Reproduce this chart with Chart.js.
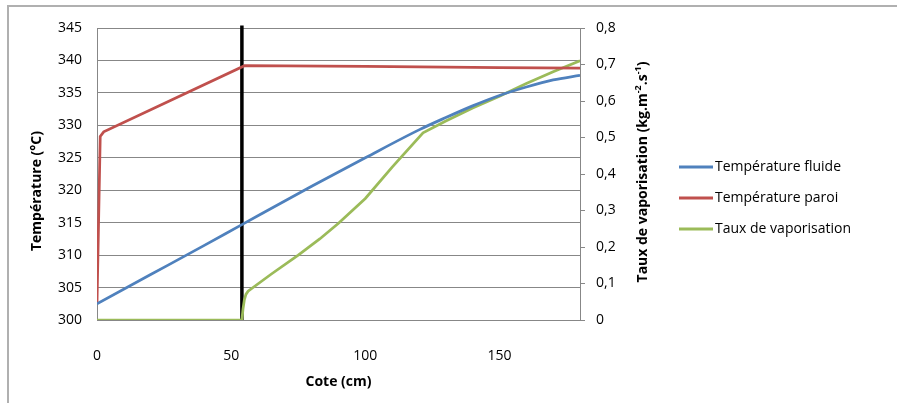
<!DOCTYPE html>
<html>
<head>
<meta charset="utf-8">
<script src="https://cdn.jsdelivr.net/npm/chart.js@4.4.1/dist/chart.umd.min.js"></script>
<style>
    html, body { margin: 0; padding: 0; background: #fff; }
    canvas { display: block; }
</style>
</head>
<body>
<canvas id="chart" width="897" height="403"></canvas>
<script>
// Température fluide (°C) vs cote (cm)
const fluideX = [0, 20, 40, 54, 80, 100, 120, 130, 140, 150, 160, 170, 180];
const fluideY = [302.5, 307, 311.5, 314.7, 320.6, 325, 329.3, 331.2, 333, 334.6, 335.9, 337, 337.7];

// Température paroi (°C)
const paroiX = [0, 1.2, 2.5, 55, 100, 150, 180];
const paroiY = [302.5, 328.3, 329, 339.2, 339.1, 338.9, 338.8];

// Taux de vaporisation (kg.m-2.s-1), right axis
const tauxX = [0, 54, 54.4, 54.9, 55.5, 56.3, 65, 75, 83, 90, 100, 110, 121.5, 130, 140, 150, 160, 170, 180];
const tauxY = [0, 0, 0.03, 0.055, 0.07, 0.079, 0.126, 0.178, 0.222, 0.265, 0.333, 0.419, 0.513, 0.545, 0.581, 0.613, 0.648, 0.68, 0.71];

// vertical marker
const markerX = [54, 54];
const markerY = [345.4, 300];

const seriesLabels = ['Température fluide', 'Température paroi', 'Taux de vaporisation'];
const seriesColors = ['#4F81BD', '#C0504D', '#9BBB59'];

const tempTicks = [300, 305, 310, 315, 320, 325, 330, 335, 340, 345];
const coteTicks = [0, 50, 100, 150];

const GRID_COLOR = '#878787';

const toPoints = (xs, ys) => xs.map((x, i) => ({ x: x, y: ys[i] }));

Chart.defaults.font.family = '"Open Sans", sans-serif';
Chart.defaults.font.size = 14;
Chart.defaults.color = '#000';

const decorPlugin = {
    id: 'decor',
    afterDraw(chart) {
        const ctx = chart.ctx;
        ctx.save();

        // outer frame (top and left edges visible)
        ctx.strokeStyle = '#b0b0b0';
        ctx.lineWidth = 2;
        ctx.beginPath();
        ctx.moveTo(897, 6);
        ctx.lineTo(8, 6);
        ctx.lineTo(8, 403);
        ctx.stroke();

        // legend
        ctx.font = '14px "Open Sans", sans-serif';
        ctx.textBaseline = 'middle';
        ctx.textAlign = 'left';
        let rowY = 167;
        chart.data.datasets.forEach((ds) => {
            if (!ds.label) return;
            ctx.strokeStyle = ds.borderColor;
            ctx.lineWidth = 3;
            ctx.beginPath();
            ctx.moveTo(679, rowY);
            ctx.lineTo(713, rowY);
            ctx.stroke();
            ctx.fillStyle = '#000';
            ctx.fillText(ds.label, 715, rowY);
            rowY += 31;
        });

        // left axis title
        ctx.font = 'bold 14px "Open Sans", sans-serif';
        ctx.textAlign = 'center';
        ctx.save();
        ctx.translate(37, 191);
        ctx.rotate(-Math.PI / 2);
        ctx.fillText('Température (°C)', 0, 0);
        ctx.restore();

        // right axis title with superscripts
        const parts = [
            { t: 'Taux de vaporisation (kg.m', sup: false },
            { t: '-2', sup: true },
            { t: '.s', sup: false },
            { t: '-1', sup: true },
            { t: ')', sup: false },
        ];
        const bigFont = 'bold 14px "Open Sans", sans-serif';
        const supFont = 'bold 9px "Open Sans", sans-serif';
        let total = 0;
        parts.forEach((p) => {
            ctx.font = p.sup ? supFont : bigFont;
            p.w = ctx.measureText(p.t).width;
            total += p.w;
        });
        ctx.save();
        ctx.translate(643, 172);
        ctx.rotate(-Math.PI / 2);
        ctx.textAlign = 'left';
        let px = -total / 2;
        parts.forEach((p) => {
            ctx.font = p.sup ? supFont : bigFont;
            ctx.fillText(p.t, px, p.sup ? -5 : 0);
            px += p.w;
        });
        ctx.restore();

        ctx.restore();
    },
};

new Chart(document.getElementById('chart'), {
    type: 'line',
    plugins: [decorPlugin],
    data: {
        datasets: [
            {
                label: seriesLabels[0],
                data: toPoints(fluideX, fluideY),
                borderColor: seriesColors[0],
                backgroundColor: seriesColors[0],
                borderWidth: 2.75,
                pointRadius: 0,
                cubicInterpolationMode: 'monotone',
                yAxisID: 'y',
            },
            {
                label: seriesLabels[1],
                data: toPoints(paroiX, paroiY),
                borderColor: seriesColors[1],
                backgroundColor: seriesColors[1],
                borderWidth: 2.75,
                pointRadius: 0,
                yAxisID: 'y',
            },
            {
                label: seriesLabels[2],
                data: toPoints(tauxX, tauxY),
                borderColor: seriesColors[2],
                backgroundColor: seriesColors[2],
                borderWidth: 2.75,
                pointRadius: 0,
                tension: 0,
                yAxisID: 'y2',
            },
            {
                label: '',
                data: toPoints(markerX, markerY),
                borderColor: '#000',
                borderWidth: 3.5,
                pointRadius: 0,
                clip: 6,
                yAxisID: 'y',
            },
        ],
    },
    options: {
        responsive: false,
        animation: false,
        devicePixelRatio: 1,
        events: [],
        layout: {
            padding: { top: 28, right: 0, bottom: 0, left: 0 },
        },
        plugins: {
            legend: { display: false },
            tooltip: { enabled: false },
        },
        scales: {
            x: {
                type: 'linear',
                position: 'bottom',
                min: 0,
                max: 180,
                afterBuildTicks: (scale) => {
                    scale.ticks = coteTicks.map((v) => ({ value: v }));
                },
                afterFit: (scale) => {
                    scale.height = 83;
                },
                ticks: {
                    padding: 20,
                    maxRotation: 0,
                },
                grid: { display: false },
                border: { display: true, color: GRID_COLOR, width: 1 },
                title: {
                    display: true,
                    text: 'Cote (cm)',
                    font: { weight: 'bold', size: 14 },
                    padding: { top: 0, bottom: 13 },
                },
            },
            y: {
                position: 'left',
                min: 300,
                max: 345,
                afterBuildTicks: (scale) => {
                    scale.ticks = tempTicks.map((v) => ({ value: v }));
                },
                afterFit: (scale) => {
                    scale.width = 97;
                },
                ticks: { padding: 15 },
                grid: { color: GRID_COLOR, drawTicks: false, lineWidth: 1 },
                border: { display: true, color: GRID_COLOR, width: 1 },
            },
            y2: {
                position: 'right',
                min: 0,
                max: 0.8,
                afterFit: (scale) => {
                    scale.width = 317;
                },
                ticks: {
                    stepSize: 0.1,
                    padding: 11,
                    callback: (value) => (value === 0 ? '0' : value.toFixed(1).replace('.', ',')),
                },
                grid: {
                    drawOnChartArea: false,
                    drawTicks: true,
                    tickLength: 5,
                    color: GRID_COLOR,
                },
                border: { display: true, color: GRID_COLOR, width: 1 },
            },
        },
    },
});
</script>
</body>
</html>
